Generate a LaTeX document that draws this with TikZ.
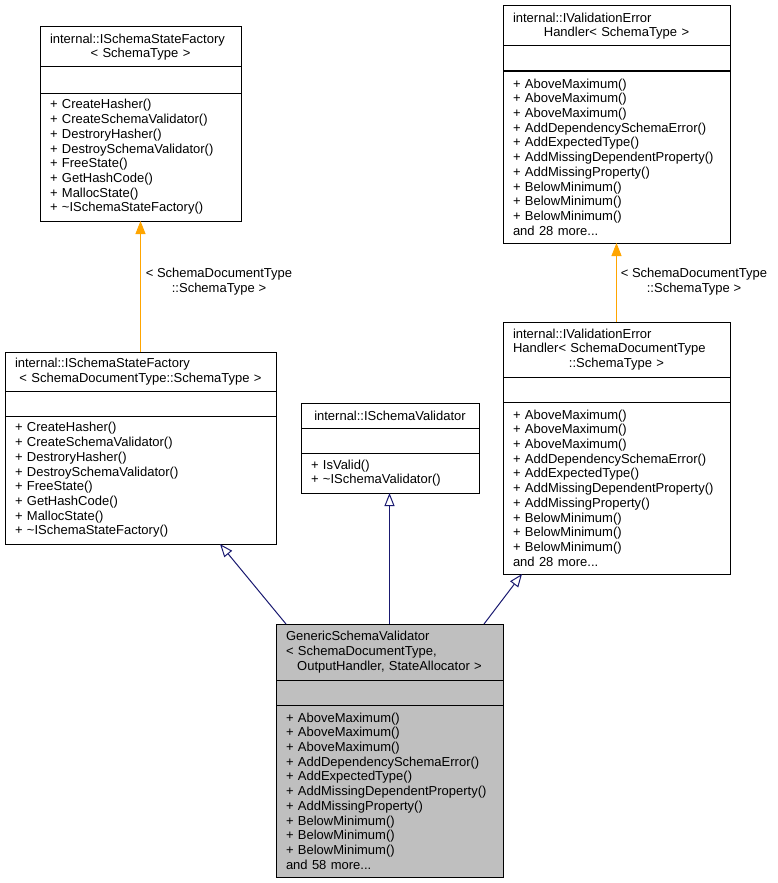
\documentclass[tikz,border=0pt]{standalone}
\usepackage{fontspec}
\setmainfont{Liberation Sans}
\usetikzlibrary{calc}
\usetikzlibrary{positioning}
\usetikzlibrary{arrows.meta}
\definecolor{edgeBlue}{HTML}{191970}
\definecolor{edgeOrange}{HTML}{FFA500}
\newcommand{\umlfont}{\fontsize{13}{14.7}\selectfont}
\newcommand{\lastln}[1]{\makebox[\linewidth]{#1}}
\tikzstyle{classnode} = [draw, rectangle, line width=1pt, outer sep=0pt, inner xsep=10pt, inner ysep=0pt, align=left, font=\umlfont]
\tikzstyle{colorSelf} = [fill=gray!50]
\tikzstyle{inherit} = [draw=edgeBlue, line width=1pt, -{Triangle[open, length=13pt, width=10pt]}]
\tikzstyle{templ} = [draw=edgeOrange, line width=1pt, -{Triangle[length=13pt, width=10pt]}]
\tikzstyle{edgelabel} = [align=center, font=\umlfont, inner sep=0pt]

\begin{document}
\begin{tikzpicture}[x=1pt, y=-1pt]
\useasboundingbox (0,0) rectangle (777,883);

% internal::ISchemaStateFactory< SchemaType >
\node[classnode, text width=181pt, minimum height=40pt, anchor=north] (fact_t) at (140.5,27) {internal::ISchemaStateFactory\\\lastln{< SchemaType >}};
\node[classnode, text width=181pt, minimum height=26pt, below=0pt of fact_t] (fact_a) {};
\node[classnode, text width=181pt, minimum height=128pt, below=0pt of fact_a] (fact_m) {+ CreateHasher()\\+ CreateSchemaValidator()\\+ DestroryHasher()\\+ DestroySchemaValidator()\\+ FreeState()\\+ GetHashCode()\\+ MallocState()\\+ \textasciitilde ISchemaStateFactory()};

% internal::ISchemaStateFactory< SchemaDocumentType::SchemaType >
\node[classnode, text width=251pt, minimum height=39pt, anchor=north] (docfact_t) at (140.5,352) {internal::ISchemaStateFactory\\\lastln{< SchemaDocumentType::SchemaType >}};
\node[classnode, text width=251pt, minimum height=25pt, below=0pt of docfact_t] (docfact_a) {};
\node[classnode, text width=251pt, minimum height=128pt, below=0pt of docfact_a] (docfact_m) {+ CreateHasher()\\+ CreateSchemaValidator()\\+ DestroryHasher()\\+ DestroySchemaValidator()\\+ FreeState()\\+ GetHashCode()\\+ MallocState()\\+ \textasciitilde ISchemaStateFactory()};

% internal::IValidationErrorHandler< SchemaType >
\node[classnode, text width=207pt, minimum height=40pt, anchor=north] (err_t) at (616.5,6) {internal::IValidationError\\\lastln{Handler< SchemaType >}};
\node[classnode, text width=207pt, minimum height=25pt, below=0pt of err_t] (err_a) {};
\node[classnode, text width=207pt, minimum height=172pt, below=0pt of err_a] (err_m) {+ AboveMaximum()\\+ AboveMaximum()\\+ AboveMaximum()\\+ AddDependencySchemaError()\\+ AddExpectedType()\\+ AddMissingDependentProperty()\\+ AddMissingProperty()\\+ BelowMinimum()\\+ BelowMinimum()\\+ BelowMinimum()\\and 28 more...};

% internal::IValidationErrorHandler< SchemaDocumentType::SchemaType >
\node[classnode, text width=207pt, minimum height=55pt, anchor=north] (docerr_t) at (616.5,322) {internal::IValidationError\\Handler< SchemaDocumentType\\\lastln{::SchemaType >}};
\node[classnode, text width=207pt, minimum height=25pt, below=0pt of docerr_t] (docerr_a) {};
\node[classnode, text width=207pt, minimum height=172pt, below=0pt of docerr_a] (docerr_m) {+ AboveMaximum()\\+ AboveMaximum()\\+ AboveMaximum()\\+ AddDependencySchemaError()\\+ AddExpectedType()\\+ AddMissingDependentProperty()\\+ AddMissingProperty()\\+ BelowMinimum()\\+ BelowMinimum()\\+ BelowMinimum()\\and 28 more...};

% internal::ISchemaValidator
\node[classnode, text width=158pt, minimum height=25pt, anchor=north] (valid_t) at (390,403) {\lastln{internal::ISchemaValidator}};
\node[classnode, text width=158pt, minimum height=25pt, below=0pt of valid_t] (valid_a) {};
\node[classnode, text width=158pt, minimum height=40pt, below=0pt of valid_a] (valid_m) {+ IsValid()\\+ \textasciitilde ISchemaValidator()};

% GenericSchemaValidator
\node[classnode, colorSelf, text width=207pt, minimum height=56pt, anchor=north] (gen_t) at (389.5,624) {GenericSchemaValidator\\< SchemaDocumentType,\\\lastln{OutputHandler, StateAllocator >}};
\node[classnode, colorSelf, text width=207pt, minimum height=25pt, below=0pt of gen_t] (gen_a) {};
\node[classnode, colorSelf, text width=207pt, minimum height=172pt, below=0pt of gen_a] (gen_m) {+ AboveMaximum()\\+ AboveMaximum()\\+ AboveMaximum()\\+ AddDependencySchemaError()\\+ AddExpectedType()\\+ AddMissingDependentProperty()\\+ AddMissingProperty()\\+ BelowMinimum()\\+ BelowMinimum()\\+ BelowMinimum()\\and 58 more...};

% template instantiations
\draw[templ] (docfact_t.north) -- (fact_m.south);
\node[edgelabel] (fact_lbl) at (219,281.5) {< SchemaDocumentType\\::SchemaType >};
\draw[templ] (docerr_t.north) -- (err_m.south);
\node[edgelabel] (err_lbl) at (694,281.5) {< SchemaDocumentType\\::SchemaType >};

% inheritance
\draw[inherit] ($(gen_t.north west)+(10,0)$) -- ($(docfact_m.south west)+(215,0)$);
\draw[inherit] (gen_t.north) -- (gen_t.north |- valid_m.south);
\draw[inherit] ($(gen_t.north west)+(208,0)$) -- ($(docerr_m.south west)+(19,0)$);
\end{tikzpicture}
\end{document}
